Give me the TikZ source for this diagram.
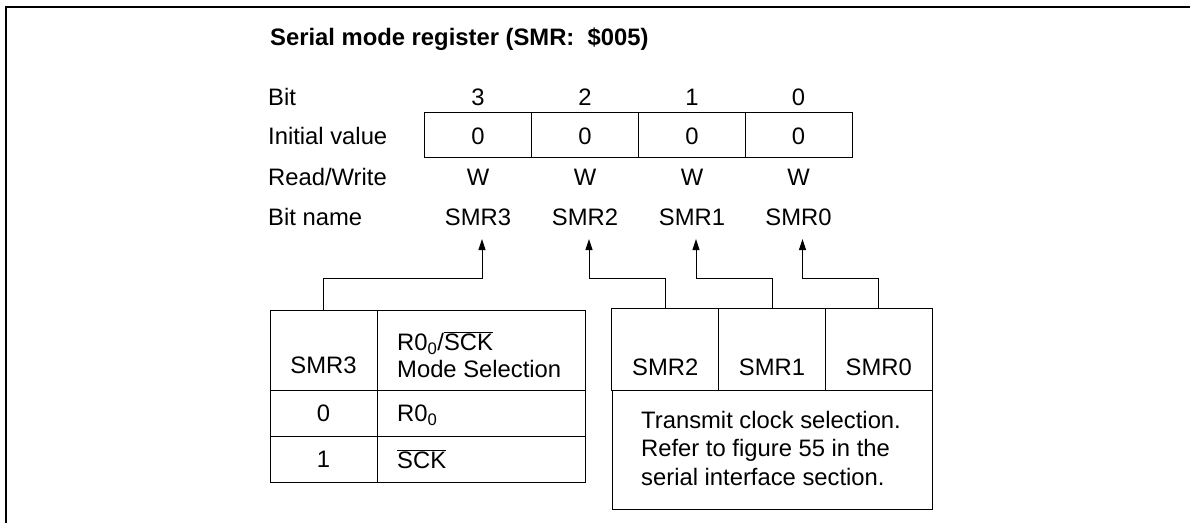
\documentclass[tikz,border=0pt]{standalone}
\usepackage{fontspec}
\setmainfont{Liberation Sans}
\usetikzlibrary{arrows.meta}
\newcommand{\regfont}{\fontsize{23.8}{28.5}\selectfont}
\newcommand{\nSCK}{$\overline{\mbox{SCK}}$}
\tikzset{
  txt/.style={inner sep=0pt, text height=17pt, text depth=0pt, font=\regfont},
  lbl/.style={txt, anchor=west},
  cell/.style={draw, line width=1pt, inner sep=0pt},
  conn/.style={line width=1pt, -{Triangle[length=11pt,width=7pt]}},
  frame/.style={line width=1.3pt}
}

\begin{document}
\begin{tikzpicture}[x=1pt,y=-1pt]
        \useasboundingbox (0,0) rectangle (1190,525);

        % frame
        \draw[frame] (6,523) -- (6,7) -- (1190,7);

        % title and row labels
        \node[lbl, font=\regfont\bfseries] (title) at (270,37) {Serial mode register (SMR:\ \ \$005)};
        \node[lbl] (lbit) at (268,97) {Bit};
        \node[lbl] (linit) at (268,136) {Initial value};
        \node[lbl] (lrw) at (268,177) {Read/Write};
        \node[lbl] (lname) at (268,217) {Bit name};

        % register
        \foreach \b/\x in {3/478,2/585,1/692,0/798.5} {
            \node[txt] (bit\b) at (\x,97) {\b};
            \node[cell, minimum width=107pt, minimum height=45pt] (reg\b) at (\x,134.5) {};
            \node[txt] (init\b) at (\x,136) {0};
            \node[txt] (rw\b) at (\x,177) {W};
            \node[txt] (name\b) at (\x,217) {SMR\b};
            \coordinate (tip\b) at (\x+4,239);
        }

        % SMR3 table
        \node[cell, minimum width=107pt, minimum height=80pt] (c3) at (323.5,350) {};
        \node[cell, minimum width=208pt, minimum height=80pt] (cmode) at (481,350) {};
        \node[cell, minimum width=107pt, minimum height=46pt] (v0) at (323.5,413) {};
        \node[cell, minimum width=208pt, minimum height=46pt] (m0) at (481,413) {};
        \node[cell, minimum width=107pt, minimum height=46pt] (v1) at (323.5,459) {};
        \node[cell, minimum width=208pt, minimum height=46pt] (m1) at (481,459) {};
        \node[txt] (t3) at (323.5,365) {SMR3};
        \node[lbl] (tmodea) at (397,342) {R0\textsubscript{0}/\nSCK};
        \node[lbl] (tmodeb) at (397,369) {Mode Selection};
        \node[txt] (tv0) at (v0) {0};
        \node[lbl] (tm0) at (397,413) {R0\textsubscript{0}};
        \node[txt] (tv1) at (v1) {1};
        \node[lbl] (tm1) at (397,460) {\nSCK};

        % SMR2..SMR0 table
        \foreach \b/\x in {2/665.3,1/772,0/878.7} {
            \node[cell, minimum width=106.7pt, minimum height=82pt] (c\b) at (\x,349) {};
            \node[txt] (t\b) at (\x,367) {SMR\b};
        }
        \node[cell, minimum width=320pt, minimum height=119pt] (desc) at (772,449.5) {};
        \node[inner sep=0pt, font=\regfont, align=left, anchor=north west] (tdesc) at (641,411)
            {Transmit clock selection.\\Refer to figure 55 in the\\serial interface section.};

        % connectors
        \coordinate (lvl) at (0,278);
        \foreach \b in {3,2,1,0}
            \draw[conn] (c\b.north) -- (c\b.north |- lvl) -| (tip\b);
\end{tikzpicture}
\end{document}
